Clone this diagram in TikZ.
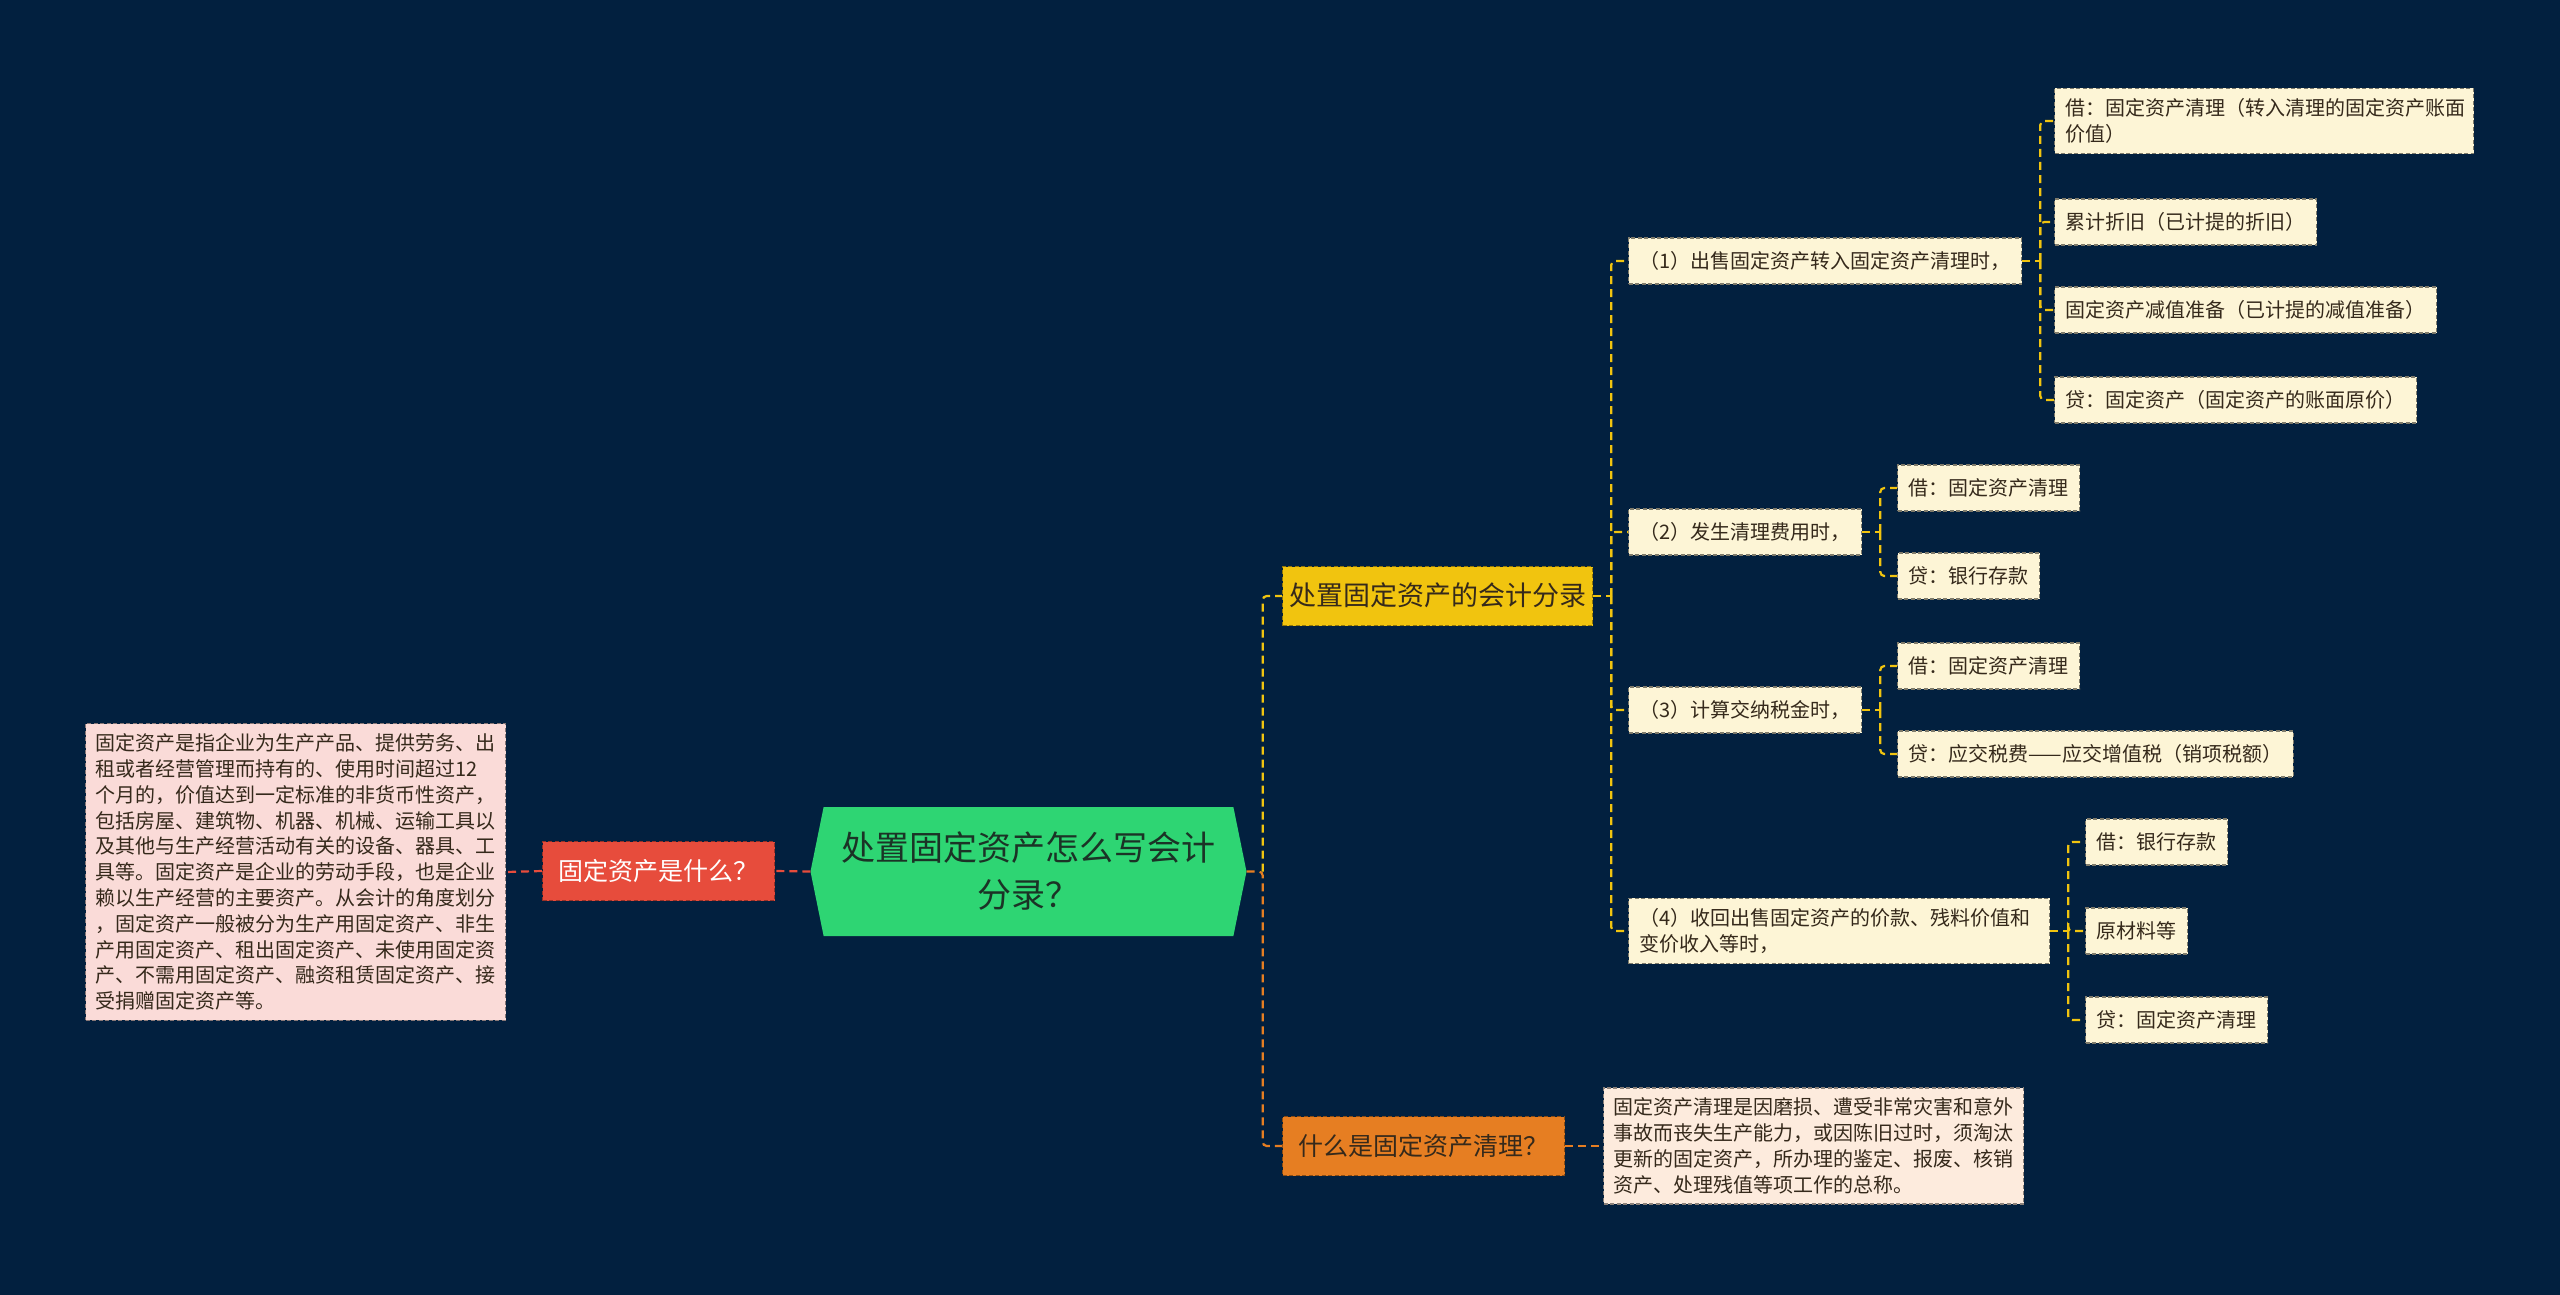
\documentclass[tikz,border=0pt]{standalone}
\usepackage{fontspec}
\setmainfont{Noto Sans CJK SC}
\usetikzlibrary{shapes.symbols}

\definecolor{bgnavy}{HTML}{02203F}
\definecolor{rootgreen}{HTML}{2ED573}
\definecolor{roottext}{HTML}{1B3326}
\definecolor{redfill}{HTML}{E74C3C}
\definecolor{yellowfill}{HTML}{F1C40F}
\definecolor{orangefill}{HTML}{E67E22}
\definecolor{leafcream}{HTML}{FDF5D6}
\definecolor{pinkfill}{HTML}{FADBD8}
\definecolor{peachfill}{HTML}{FDEBDD}
\definecolor{inktext}{HTML}{35291B}

\newcommand{\rootfont}{\fontsize{34pt}{47pt}\selectfont}
\newcommand{\topicfont}{\fontsize{25pt}{30pt}\selectfont}
\newcommand{\leaffont}{\fontsize{20pt}{26pt}\selectfont}
\newcommand{\notefont}{\fontsize{20pt}{25.8pt}\selectfont}

\tikzset{
  box/.style={inner ysep=0pt, line width=1.2pt, dash pattern=on 4pt off 2.5pt, text=inktext},
  leafbase/.style={box, fill=leafcream, draw=leafcream!50!black, inner xsep=11pt, font=\leaffont},
  leaf/.style={leafbase, anchor=west, minimum height=46pt, text height=17.6pt, text depth=2.4pt},
  multileaf/.style={leafbase, anchor=west, align=left, inner ysep=10pt},
  topic/.style={box, anchor=west, minimum height=59pt, font=\topicfont, text height=22pt, text depth=3pt},
  note/.style={box, anchor=west, align=left, font=\notefont, inner xsep=10pt, inner ysep=10pt},
  rootnode/.style={signal, signal to=west and east, signal pointer angle=157, fill=rootgreen,
    minimum width=436pt, minimum height=129pt, inner sep=0pt, align=center, font=\rootfont, text=roottext},
  link/.style={line width=2.2pt, dash pattern=on 8pt off 5pt, rounded corners=4pt},
  redlink/.style={link, draw=redfill},
  yellowlink/.style={link, draw=yellowfill},
  orangelink/.style={link, draw=orangefill}
}

\begin{document}
\begin{tikzpicture}[x=1pt, y=-1pt]
    % 背景
    \fill[bgnavy] (0,0) rectangle (2560,1295);

    % 中心主题
    \node[rootnode] (root) at (1028.5,871.5) {处置固定资产怎么写会计\\分录？};

    % 左侧分支
    \node[topic, fill=redfill, draw=redfill!65!black, text=white, minimum width=232pt] (what) at (542,871) {固定资产是什么？};
    \node[note, fill=pinkfill, draw=pinkfill!55!black, text width=400pt] (whatnote) at (85,872) {固定资产是指企业为生产产品、提供劳务、出\\租或者经营管理而持有的、使用时间超过12\\个月的，价值达到一定标准的非货币性资产，\\包括房屋、建筑物、机器、机械、运输工具以\\及其他与生产经营活动有关的设备、器具、工\\具等。固定资产是企业的劳动手段，也是企业\\赖以生产经营的主要资产。从会计的角度划分\\，固定资产一般被分为生产用固定资产、非生\\产用固定资产、租出固定资产、未使用固定资\\产、不需用固定资产、融资租赁固定资产、接\\受捐赠固定资产等。};

    % 右侧分支
    \node[topic, fill=yellowfill, draw=yellowfill!60!black, minimum width=310pt, font=\fontsize{27pt}{32pt}\selectfont] (entry) at (1282,596) {处置固定资产的会计分录};
    \node[topic, fill=orangefill, draw=orangefill!60!black, minimum width=282pt] (clear) at (1282,1146) {什么是固定资产清理？};
    \node[note, fill=peachfill, draw=peachfill!55!black, text width=400pt] (clearnote) at (1603,1146) {固定资产清理是因磨损、遭受非常灾害和意外\\事故而丧失生产能力，或因陈旧过时，须淘汰\\更新的固定资产，所办理的鉴定、报废、核销\\资产、处理残值等项工作的总称。};

    % 四种情形
    \node[leaf] (case1) at (1628,261) {（1）出售固定资产转入固定资产清理时，};
    \node[leaf] (case2) at (1628,532) {（2）发生清理费用时，};
    \node[leaf] (case3) at (1628,710) {（3）计算交纳税金时，};
    \node[multileaf, text width=399pt] (case4) at (1628,931) {（4）收回出售固定资产的价款、残料价值和\\变价收入等时，};

    % 分录
    \node[multileaf, text width=397pt] (a1) at (2054,121) {借：固定资产清理（转入清理的固定资产账面\\价值）};
    \node[leaf] (a2) at (2054,222) {累计折旧（已计提的折旧）};
    \node[leaf] (a3) at (2054,310) {固定资产减值准备（已计提的减值准备）};
    \node[leaf] (a4) at (2054,400) {贷：固定资产（固定资产的账面原价）};
    \node[leaf] (b1) at (1897,488) {借：固定资产清理};
    \node[leaf] (b2) at (1897,576) {贷：银行存款};
    \node[leaf] (c1) at (1897,666) {借：固定资产清理};
    \node[leaf] (c2) at (1897,754) {贷：应交税费——应交增值税（销项税额）};
    \node[leaf] (d1) at (2085,842) {借：银行存款};
    \node[leaf] (d2) at (2085,931) {原材料等};
    \node[leaf] (d3) at (2085,1020) {贷：固定资产清理};

    % 连线
    \draw[redlink] (root.west) -- (what.east);
    \draw[redlink] (what.west) -- (whatnote.east);
    \draw[orangelink] (root.east) -- ++(16,0) coordinate (rootbus) |- (clear.west);
    \draw[yellowlink] (rootbus) |- (entry.west);
    \draw[orangelink] (clear.east) -- (clearnote.west);

    \draw[yellowlink] (entry.east) -- ++(18,0) coordinate (entrybus);
    \foreach \n in {case1,case2,case3,case4}
        \draw[yellowlink] (entrybus) |- (\n.west);

    \draw[yellowlink] (case1.east) -- ++(18,0) coordinate (bus1);
    \foreach \n in {a1,a2,a3,a4}
        \draw[yellowlink] (bus1) |- (\n.west);
    \draw[yellowlink] (case2.east) -- ++(18,0) coordinate (bus2);
    \foreach \n in {b1,b2}
        \draw[yellowlink] (bus2) |- (\n.west);
    \draw[yellowlink] (case3.east) -- ++(18,0) coordinate (bus3);
    \foreach \n in {c1,c2}
        \draw[yellowlink] (bus3) |- (\n.west);
    \draw[yellowlink] (case4.east) -- ++(18,0) coordinate (bus4);
    \foreach \n in {d1,d2,d3}
        \draw[yellowlink] (bus4) |- (\n.west);
\end{tikzpicture}
\end{document}
